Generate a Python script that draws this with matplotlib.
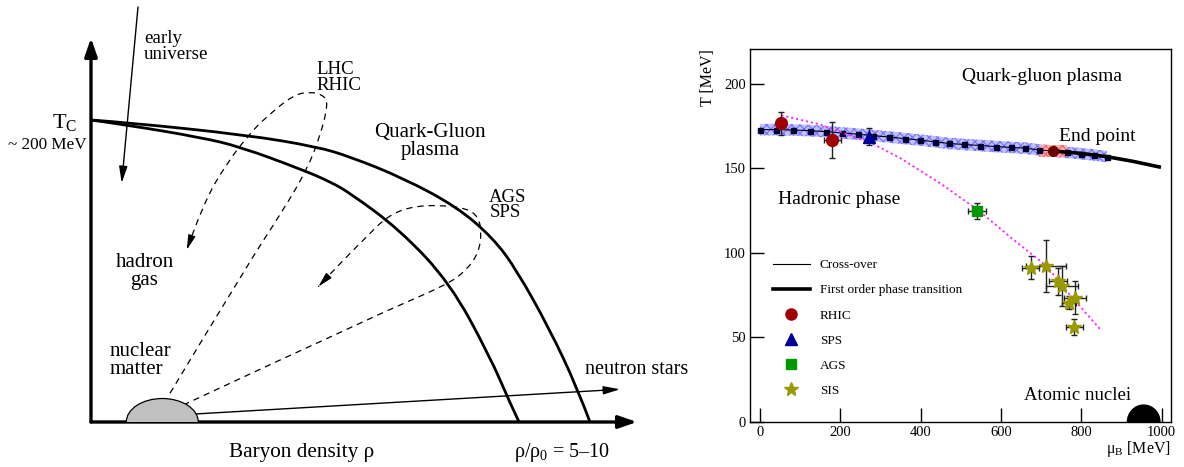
import matplotlib
matplotlib.use("Agg")
import matplotlib.pyplot as plt
import numpy as np
from matplotlib.lines import Line2D
from matplotlib.patches import Ellipse, PathPatch, Rectangle
from matplotlib.path import Path

plt.rcParams["font.family"] = ["Liberation Serif", "DejaVu Serif"]
plt.rcParams["mathtext.fontset"] = "custom"
plt.rcParams["mathtext.rm"] = "Liberation Serif"
plt.rcParams["mathtext.it"] = "Liberation Serif:italic"
plt.rcParams["hatch.linewidth"] = 0.8

# ---- left panel: schematic (arbitrary units, origin at the axes corner)
inner_x = [0, 36, 109, 149, 212, 239, 259, 309, 359, 399, 419, 428]
inner_y = [302, 297, 284.7, 275.3, 252, 240.3, 229, 192, 139, 65.3, 19, 0]
outer_x = [0, 35.7, 155.7, 225.7, 259, 312, 365.7, 402, 425.7, 459, 485.7, 499]
outer_y = [302, 299.5, 287, 275.3, 265.3, 244, 215.3, 184, 152, 92, 35.3, 0]

lhc_x = [79, 157.3, 192.3, 215.7, 229, 237.3, 232.3, 219, 202.3, 175.7, 159, 135.7, 112.3, 95.7]
lhc_y = [28.7, 158.7, 212, 252, 285.3, 318.7, 327, 330.3, 327, 305.3, 288.7, 258.7, 218.7, 172]
ags_x = [92.3, 289, 355.7, 375.7, 387.3, 390.7, 387.3, 375.7, 349, 319, 295.7, 275.7, 252.3, 227.3]
ags_y = [17, 108.7, 137, 152, 168.7, 188.7, 205.3, 213.7, 217, 215.3, 205.3, 185.3, 162, 135.3]

early_from, early_to = (47, 415), (30.7, 239)
nstar_from, nstar_to = (104, 8), (529, 32.7)
nuclear_center, nuclear_w, nuclear_h = (71.3, 0), 72, 47
t_axis_top, rho_axis_end = 384, 546

# ---- right panel: lattice QCD + chemical freeze-out
crossover_mu = [0, 39, 83, 124, 163, 205, 245, 281, 321, 361, 398, 435, 471, 507,
                547, 587, 624, 660, 695, 730, 765, 800, 831, 863]
crossover_T = [173, 173, 172.8, 172.4, 171.8, 171, 170.3, 169.5, 168.6, 167.7, 166.8,
               165.8, 164.8, 164.2, 163.6, 163, 162.5, 162, 161, 160.3, 159.5, 158.7, 158, 157]
crossover_err = 3.4
endpoint_mu, endpoint_T = 730, 160.3
endpoint_dmu, endpoint_dT = 35, 3.7
first_order_mu = [730, 796, 863, 929, 998]
first_order_T = [160.3, 159, 157, 154.2, 150.7]

freezeout_mu = [53, 150, 207, 270, 350, 450, 545, 630, 715, 750, 800, 846]
freezeout_T = [181.5, 176, 171, 166, 156, 141, 125, 108, 92, 81, 67.5, 55]

rhic_mu, rhic_T, rhic_dmu, rhic_dT = [53, 180], [176.7, 166.9], [8, 22], [7, 10.5]
sps_mu, sps_T, sps_dmu, sps_dT = [271.5], [168.8], [6], [5]
ags_mu, ags_T, ags_dmu, ags_dT = [540], [125], [23], [4.6]
sis_mu = [674, 711, 742, 752, 784, 769, 782]
sis_T = [91.3, 92.5, 83.4, 80.5, 73.6, 70.6, 56.4]
sis_dmu = [21, 50, 22, 40, 28, 18, 21]
sis_dT = [6.9, 15.4, 8, 12, 9.9, 4, 4.7]
nuclei_mu, nuclei_w, nuclei_h = 955, 81, 20


def smooth_path(xs, ys):
    # quadratic bezier through the read points (used as control points)
    pts = np.column_stack([xs, ys]).astype(float)
    verts, codes = [pts[0]], [Path.MOVETO]
    n = len(pts)
    for i in range(1, n - 1):
        end = pts[-1] if i == n - 2 else (pts[i] + pts[i + 1]) / 2
        verts += [pts[i], end]
        codes += [Path.CURVE3, Path.CURVE3]
    return Path(verts, codes)


fig = plt.figure(figsize=(11.84, 4.67), dpi=100)

# ================= left panel =================
ax1 = fig.add_axes([0, 0, 700 / 1184, 1])
ax1.set_xlim(-91, 609)
ax1.set_ylim(-45, 422)
ax1.axis("off")

head = dict(color="k", shrinkA=0, shrinkB=0)
ax1.annotate("", xy=(0, t_axis_top), xytext=(0, 0),
             arrowprops=dict(arrowstyle="-|>,head_length=1.1,head_width=0.38", lw=2.4, **head))
ax1.annotate("", xy=(rho_axis_end, 0), xytext=(0, 0),
             arrowprops=dict(arrowstyle="-|>,head_length=1.1,head_width=0.38", lw=2.4, **head))

for px, py in [(inner_x, inner_y), (outer_x, outer_y)]:
    ax1.add_patch(PathPatch(smooth_path(px, py), fill=False, edgecolor="k", lw=2.0,
                            capstyle="butt"))

for px, py in [(lhc_x, lhc_y), (ags_x, ags_y)]:
    ax1.add_patch(PathPatch(smooth_path(px, py), fill=False, edgecolor="k", lw=0.9,
                            ls=(0, (5, 4))))
    d = np.array([px[-1] - px[-2], py[-1] - py[-2]])
    d = d / np.hypot(*d)
    start = (px[-1] - 9 * d[0], py[-1] - 9 * d[1])
    ax1.annotate("", xy=(px[-1], py[-1]), xytext=start,
                 arrowprops=dict(arrowstyle="-|>,head_length=0.9,head_width=0.22", lw=0.9, **head))

ax1.annotate("", xy=early_to, xytext=early_from,
             arrowprops=dict(arrowstyle="-|>,head_length=1.0,head_width=0.25", lw=1.0, **head))
ax1.annotate("", xy=nstar_to, xytext=nstar_from,
             arrowprops=dict(arrowstyle="-|>,head_length=1.0,head_width=0.25", lw=1.0, **head))

nuc = Ellipse(nuclear_center, nuclear_w, nuclear_h, facecolor="#c0c0c0",
              edgecolor="k", lw=0.9, zorder=3)
ax1.add_patch(nuc)
upper = Rectangle((-91, 0), 700, 422, transform=ax1.transData)
nuc.set_clip_path(upper)

ax1.text(-26, 294, r"T$_\mathrm{C}$", fontsize=16, ha="center", va="baseline")
ax1.text(-4, 273, "~ 200 MeV", fontsize=12.3, ha="right", va="baseline")
ax1.text(53, 392, "early\nuniverse", fontsize=13.7, ha="left", va="top", linespacing=0.95)
ax1.text(225.7, 361, "LHC\nRHIC", fontsize=13.6, ha="left", va="top", linespacing=0.9)
ax1.text(339, 299, "Quark-Gluon\nplasma", fontsize=15, ha="center", va="top", linespacing=0.92)
ax1.text(398.3, 233, "AGS\nSPS", fontsize=13.5, ha="left", va="top", linespacing=0.85)
ax1.text(53.5, 169, "hadron\ngas", fontsize=15, ha="center", va="top", linespacing=0.92)
ax1.text(18.3, 80, "nuclear\nmatter", fontsize=15, ha="left", va="top", linespacing=0.92)
ax1.text(494, 52, "neutron stars", fontsize=14.5, ha="left", va="center")
ax1.text(210.7, -30.7, "Baryon density ρ", fontsize=15.3, ha="center", va="center")
ax1.text(471.5, -30.7, r"ρ/ρ$_0$ = 5–10", fontsize=14.5, ha="center", va="center")

# ================= right panel =================
ax2 = fig.add_axes([750 / 1184, 45 / 467, 421 / 1184, 373 / 467])
ax2.set_xlim(-25, 1023)
ax2.set_ylim(0, 220.7)

cT = np.array(crossover_T)
ax2.fill_between(crossover_mu, cT - crossover_err, cT + crossover_err, facecolor="#c0c0ff",
                 edgecolor="#7070ff", hatch="xxxx", lw=0, zorder=1)
ax2.fill_between([endpoint_mu - endpoint_dmu, endpoint_mu + endpoint_dmu],
                 endpoint_T - endpoint_dT, endpoint_T + endpoint_dT,
                 facecolor="#ffb0b0", edgecolor="#ff6060", hatch="xxxx", lw=0, zorder=2)
ax2.plot(crossover_mu, crossover_T, color="k", lw=0.8, marker="s", ms=3.6,
         mfc="#000033", mec="#000033", zorder=3)
ax2.plot(first_order_mu, first_order_T, color="k", lw=2.6, solid_capstyle="butt", zorder=4)
ax2.plot([endpoint_mu], [endpoint_T], marker="o", ms=7, color="#6a0000", zorder=5)
ax2.plot(freezeout_mu, freezeout_T, color="#ff22ff", lw=1.3, ls=(0, (1.2, 1.6)), zorder=5)

ebar = dict(ls="none", ecolor="#222222", elinewidth=1.0, capsize=2, capthick=1.0, zorder=6)
ax2.errorbar(rhic_mu, rhic_T, xerr=rhic_dmu, yerr=rhic_dT, marker="o", ms=8.5,
             mfc="#a00000", mec="#a00000", **ebar)
ax2.errorbar(sps_mu, sps_T, xerr=sps_dmu, yerr=sps_dT, marker="^", ms=8,
             mfc="#000099", mec="#000099", **ebar)
ax2.errorbar(ags_mu, ags_T, xerr=ags_dmu, yerr=ags_dT, marker="s", ms=7,
             mfc="#009900", mec="#009900", **ebar)
ax2.errorbar(sis_mu, sis_T, xerr=sis_dmu, yerr=sis_dT, marker="*", ms=10,
             mfc="#999900", mec="#999900", **ebar)

ax2.add_patch(Ellipse((nuclei_mu, 0), nuclei_w, nuclei_h, facecolor="k", edgecolor="k", zorder=6))

ax2.set_xticks([0, 200, 400, 600, 800, 1000])
ax2.set_yticks([0, 50, 100, 150, 200])
ax2.tick_params(direction="in", length=10, width=1.0, labelsize=10.5, pad=3)
for sp in ax2.spines.values():
    sp.set_linewidth(1.0)

ax2.text(-0.1, 1.0, "T [MeV]", rotation=90, fontsize=11.5, ha="center", va="top",
         transform=ax2.transAxes)
ax2.text(1.0, -0.072, r"μ$_\mathrm{B}$ [MeV]", fontsize=11.5, ha="right", va="center",
         transform=ax2.transAxes)

ax2.text(0.693, 0.926, "Quark-gluon plasma", fontsize=14, ha="center", va="center",
         transform=ax2.transAxes)
ax2.text(0.825, 0.765, "End point", fontsize=14, ha="center", va="center",
         transform=ax2.transAxes)
ax2.text(0.211, 0.597, "Hadronic phase", fontsize=14, ha="center", va="center",
         transform=ax2.transAxes)
ax2.text(0.777, 0.07, "Atomic nuclei", fontsize=13.5, ha="center", va="center",
         transform=ax2.transAxes)

handles = [
    Line2D([], [], color="k", lw=0.8),
    Line2D([], [], color="k", lw=2.6),
    Line2D([], [], ls="none", marker="o", ms=8, color="#a00000"),
    Line2D([], [], ls="none", marker="^", ms=8, color="#000099"),
    Line2D([], [], ls="none", marker="s", ms=7, color="#009900"),
    Line2D([], [], ls="none", marker="*", ms=10, color="#999900"),
]
labels = ["Cross-over", "First order phase transition", "RHIC", "SPS", "AGS", "SIS"]
ax2.legend(handles, labels, loc="upper left", bbox_to_anchor=(773 / 1184, (467 - 259) / 467),
           bbox_transform=fig.transFigure, frameon=False, fontsize=9.5, borderpad=0,
           borderaxespad=0, handlelength=2.8, handletextpad=0.75, labelspacing=0.98)

fig.savefig("out.png", dpi=100)
